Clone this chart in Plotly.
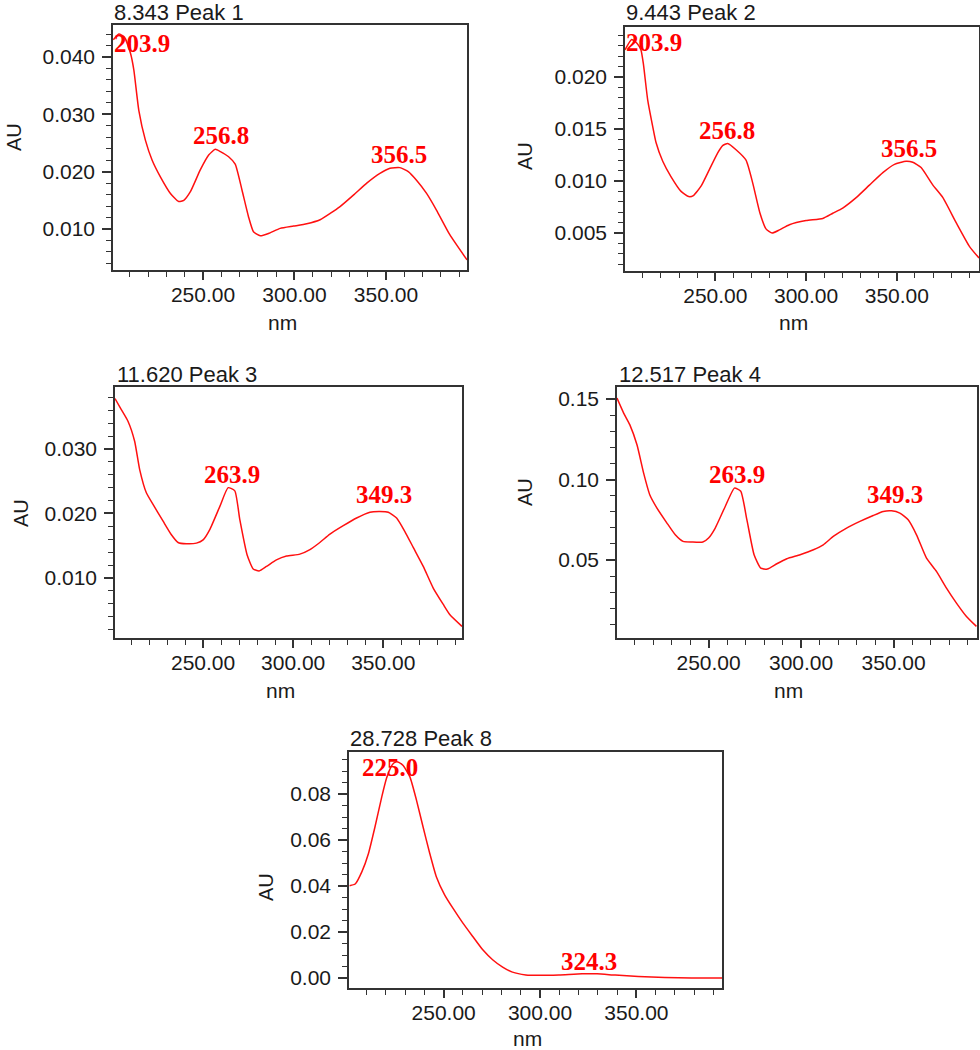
import numpy as np
import plotly.graph_objects as go

# ---------------- data ----------------
titles = ["8.343 Peak 1", "9.443 Peak 2", "11.620 Peak 3", "12.517 Peak 4", "28.728 Peak 8"]

wl1 = [201, 204, 207, 210.4, 212.2, 214.9, 218.5, 222.2, 226.7, 232.2, 236.7, 239.5, 243.1, 248.5,
       253.1, 256.7, 259.5, 264, 267.6, 271.3, 274.9, 277.6, 281.3, 285.8, 292.2, 299.5, 306.7, 314,
       319.5, 324.9, 332.2, 339.5, 346.7, 352.2, 357.6, 362.2, 366.7, 372.2, 377.6, 384.9, 394.3]
au1 = [0.0430, 0.0440, 0.0435, 0.0406, 0.0377, 0.0307, 0.0255, 0.0220, 0.0191, 0.0162, 0.0148,
       0.0150, 0.0165, 0.0203, 0.0229, 0.0239, 0.0235, 0.0226, 0.0213, 0.0168, 0.0121, 0.0095,
       0.0088, 0.0092, 0.0101, 0.0105, 0.0109, 0.0116, 0.0127, 0.0139, 0.0159, 0.0180, 0.0197,
       0.0206, 0.0207, 0.0200, 0.0185, 0.0162, 0.0133, 0.0090, 0.0046]
peaks1 = [203.9, 256.8, 356.5]

wl2 = [200.2, 203.9, 207, 209, 210.3, 212.7, 215.4, 217.3, 221, 225.6, 231.1, 235.3, 237.9, 242.1,
       246.7, 251.3, 254, 256.8, 261.4, 266.9, 270.6, 274.6, 277.9, 281.3, 285.3, 290.8, 300, 309.2,
       314.7, 320.2, 327.6, 334.9, 342.3, 348.7, 355.1, 358.8, 363.4, 369.9, 375.4, 382.7, 390.1, 395.3]
au2 = [0.0226, 0.0236, 0.0232, 0.0226, 0.0213, 0.0178, 0.0153, 0.0137, 0.0119, 0.0104, 0.0090,
       0.0085, 0.0086, 0.0095, 0.0111, 0.0127, 0.0134, 0.0136, 0.0130, 0.0120, 0.0098, 0.0069,
       0.0054, 0.0050, 0.0053, 0.0058, 0.0062, 0.0064, 0.0069, 0.0074, 0.0084, 0.0096, 0.0108,
       0.0116, 0.0119, 0.0118, 0.0113, 0.0096, 0.0084, 0.0060, 0.0037, 0.0026]
peaks2 = [203.9, 256.8, 356.5]

wl3 = [201.1, 204.6, 208.3, 212, 214.8, 218.5, 222.2, 227.8, 232.4, 236.1, 240.7, 246.3, 250, 253.7,
       259.3, 263.9, 267.6, 270.4, 274.4, 277.8, 281.1, 285.2, 290.7, 296.3, 303.7, 309.3, 314.8,
       320.4, 327.8, 335.2, 342.6, 348.1, 352.8, 357.4, 362, 366.7, 372.2, 377.8, 383.3, 387, 393.7]
au3 = [0.0378, 0.0361, 0.0343, 0.0312, 0.0268, 0.0232, 0.0214, 0.0188, 0.0167, 0.0155, 0.0153,
       0.0154, 0.0159, 0.0175, 0.0211, 0.0240, 0.0235, 0.0190, 0.0136, 0.0114, 0.0111, 0.0118,
       0.0128, 0.0134, 0.0137, 0.0144, 0.0155, 0.0168, 0.0181, 0.0193, 0.0202, 0.0203, 0.0202,
       0.0193, 0.0172, 0.0147, 0.0118, 0.0084, 0.0059, 0.0043, 0.0025]
peaks3 = [263.9, 349.3]

wl4 = [200.5, 204.1, 207.4, 211.3, 214.9, 218.2, 222.1, 227.5, 232, 236.2, 241, 246.9, 250, 253.6,
       259, 264, 267.4, 270.7, 274.6, 278.2, 281.8, 286.9, 292.3, 299.5, 306.7, 312, 317.4, 324.6,
       331.8, 339, 344.4, 348.9, 353.4, 357.9, 362.4, 367.8, 373.2, 378.6, 384, 389.4, 394.8]
au4 = [0.1506, 0.1413, 0.1341, 0.1216, 0.1040, 0.0906, 0.0823, 0.0730, 0.0657, 0.0616, 0.0612,
       0.0612, 0.0637, 0.0699, 0.0833, 0.0947, 0.0927, 0.0751, 0.0533, 0.0450, 0.0444, 0.0477,
       0.0508, 0.0533, 0.0564, 0.0595, 0.0647, 0.0699, 0.0740, 0.0777, 0.0802, 0.0806, 0.0792,
       0.0750, 0.0657, 0.0512, 0.0430, 0.0326, 0.0233, 0.0150, 0.0088]
peaks4 = [263.9, 349.3]

wl5 = [201.2, 204.1, 207.6, 211, 214.4, 217.9, 220.4, 222.5, 224, 225.3, 227, 229, 232.5, 235.9,
       239.3, 242.8, 246.2, 250.5, 254.8, 260, 265.1, 270.3, 275.4, 280.6, 285.7, 292.6, 299.5,
       309.8, 321.8, 329.6, 339, 351, 364.8, 378.5, 394.4]
au5 = [0.0402, 0.0409, 0.0463, 0.0542, 0.0658, 0.0788, 0.0870, 0.0915, 0.0934, 0.0940, 0.0937,
       0.0924, 0.0875, 0.0774, 0.0658, 0.0542, 0.0441, 0.0362, 0.0304, 0.0239, 0.0181, 0.0123,
       0.0080, 0.0048, 0.0026, 0.0014, 0.0012, 0.0014, 0.0019, 0.0019, 0.0013, 0.0007, 0.0003,
       0.0001, 0.0000]
peaks5 = [225.0, 324.3]

series = [(wl1, au1, peaks1), (wl2, au2, peaks2), (wl3, au3, peaks3), (wl4, au4, peaks4), (wl5, au5, peaks5)]

# ---------------- layout / style ----------------
W, H = 980, 1050
# plot boxes in pixels: left, top, right, bottom
boxes = [(113, 25, 467, 270), (625, 27, 979, 271), (115, 387, 462, 638),
         (617, 387, 977, 638), (349, 752, 722, 988)]
xranges = [(200.8, 394.3), (200.2, 395.3), (201.1, 393.7), (200.5, 395.1), (200.9, 394.4)]
yranges = [(0.00284, 0.04558), (0.00135, 0.0248), (0.0007, 0.0396), (0.0016, 0.1575), (-0.0043, 0.0983)]
ydticks = [0.01, 0.005, 0.01, 0.05, 0.02]
yminor = [0.002, 0.001, 0.002, 0.01, 0.005]
yfmt = [".3f", ".3f", ".3f", ".2f", ".2f"]
# per-label style: (xanchor, xshift, yanchor, yshift)
label_style = [
    [("left", -6, "middle", -9), ("center", 6, "bottom", -1), ("center", 1, "bottom", -1)],
    [("left", -7, "middle", -3), ("center", -1, "bottom", -1), ("center", 0, "bottom", -1)],
    [("center", 4, "bottom", -1), ("center", 2, "bottom", 3)],
    [("center", 3, "bottom", -1), ("center", 3, "bottom", 2)],
    [("center", -5, "middle", -5), ("center", 2, "bottom", -2)],
]
# axis title centers in px
au_pos = [(14, 137), (525, 156), (21, 513), (525, 492), (266, 887)]
nm_pos = [(282, 322), (793, 322), (280, 690), (788, 690), (527, 1038)]
title_pos = [(113, 12), (625, 12), (116, 374), (618, 374), (349, 738)]

AX = "#333333"
TXT = "#1a1a1a"
SANS = "Liberation Sans, Arial, sans-serif"
SERIF = "Liberation Serif, Times New Roman, serif"

fig = go.Figure()
annotations = []
layout = dict(width=W, height=H, margin=dict(l=0, r=0, t=0, b=0, autoexpand=False),
              paper_bgcolor="white", plot_bgcolor="white", showlegend=False)

for i, (wl, au, peaks) in enumerate(series):
    n = i + 1
    xa = "x" if n == 1 else f"x{n}"
    ya = "y" if n == 1 else f"y{n}"
    fig.add_trace(go.Scatter(x=wl, y=au, mode="lines", xaxis=xa, yaxis=ya,
                             line=dict(color="#ff1010", width=1.5, shape="spline", smoothing=0.5),
                             hoverinfo="skip"))
    l, t, r, b = boxes[i]
    common = dict(showline=True, linecolor=AX, linewidth=1.5, mirror=True, showgrid=False,
                  zeroline=False, ticks="outside", tickcolor=AX, tickwidth=1.5, automargin=False,
                  tickfont=dict(family=SANS, size=21, color=TXT))
    layout["xaxis" if n == 1 else f"xaxis{n}"] = dict(
        common, domain=[l / W, r / W], anchor=ya, range=list(xranges[i]),
        tick0=0, dtick=50, tickformat=".2f", ticklen=8, ticklabelstandoff=-3,
        minor=dict(ticks="outside", tick0=0, dtick=10, ticklen=5, tickcolor=AX, tickwidth=1.3))
    layout["yaxis" if n == 1 else f"yaxis{n}"] = dict(
        common, domain=[1 - b / H, 1 - t / H], anchor=xa, range=list(yranges[i]),
        tick0=0, dtick=ydticks[i], tickformat=yfmt[i], ticklen=9, ticklabelstandoff=3,
        minor=dict(ticks="outside", tick0=0, dtick=yminor[i], ticklen=5, tickcolor=AX, tickwidth=1.3))

    # peak labels
    for p, (xanc, xs, yanc, ys) in zip(peaks, label_style[i]):
        annotations.append(dict(
            x=p, y=float(np.interp(p, wl, au)), xref=xa, yref=ya, text=f"{p:.1f}",
            showarrow=False, xanchor=xanc, yanchor=yanc, xshift=xs, yshift=ys,
            font=dict(family=SERIF, size=25, color="#ff0000", weight="bold"), borderpad=0))
    # chart title
    tx, ty = title_pos[i]
    annotations.append(dict(x=tx / W, y=1 - ty / H, xref="paper", yref="paper", text=titles[i],
                            showarrow=False, xanchor="left", yanchor="middle", borderpad=0,
                            font=dict(family=SANS, size=22, color=TXT)))
    # axis titles
    ax_, ay_ = au_pos[i]
    annotations.append(dict(x=ax_ / W, y=1 - ay_ / H, xref="paper", yref="paper", text="AU",
                            showarrow=False, textangle=-90, xanchor="center", yanchor="middle",
                            font=dict(family=SANS, size=20, color=TXT)))
    nx_, ny_ = nm_pos[i]
    annotations.append(dict(x=nx_ / W, y=1 - ny_ / H, xref="paper", yref="paper", text="nm",
                            showarrow=False, xanchor="center", yanchor="middle", borderpad=0,
                            font=dict(family=SANS, size=21, color=TXT)))

layout["annotations"] = annotations
fig.update_layout(**layout)
fig.write_html("out.html", config={"displayModeBar": False},
               post_script="document.body.style.margin='0';document.body.style.padding='0';"
                           "document.documentElement.style.overflow='hidden';")
